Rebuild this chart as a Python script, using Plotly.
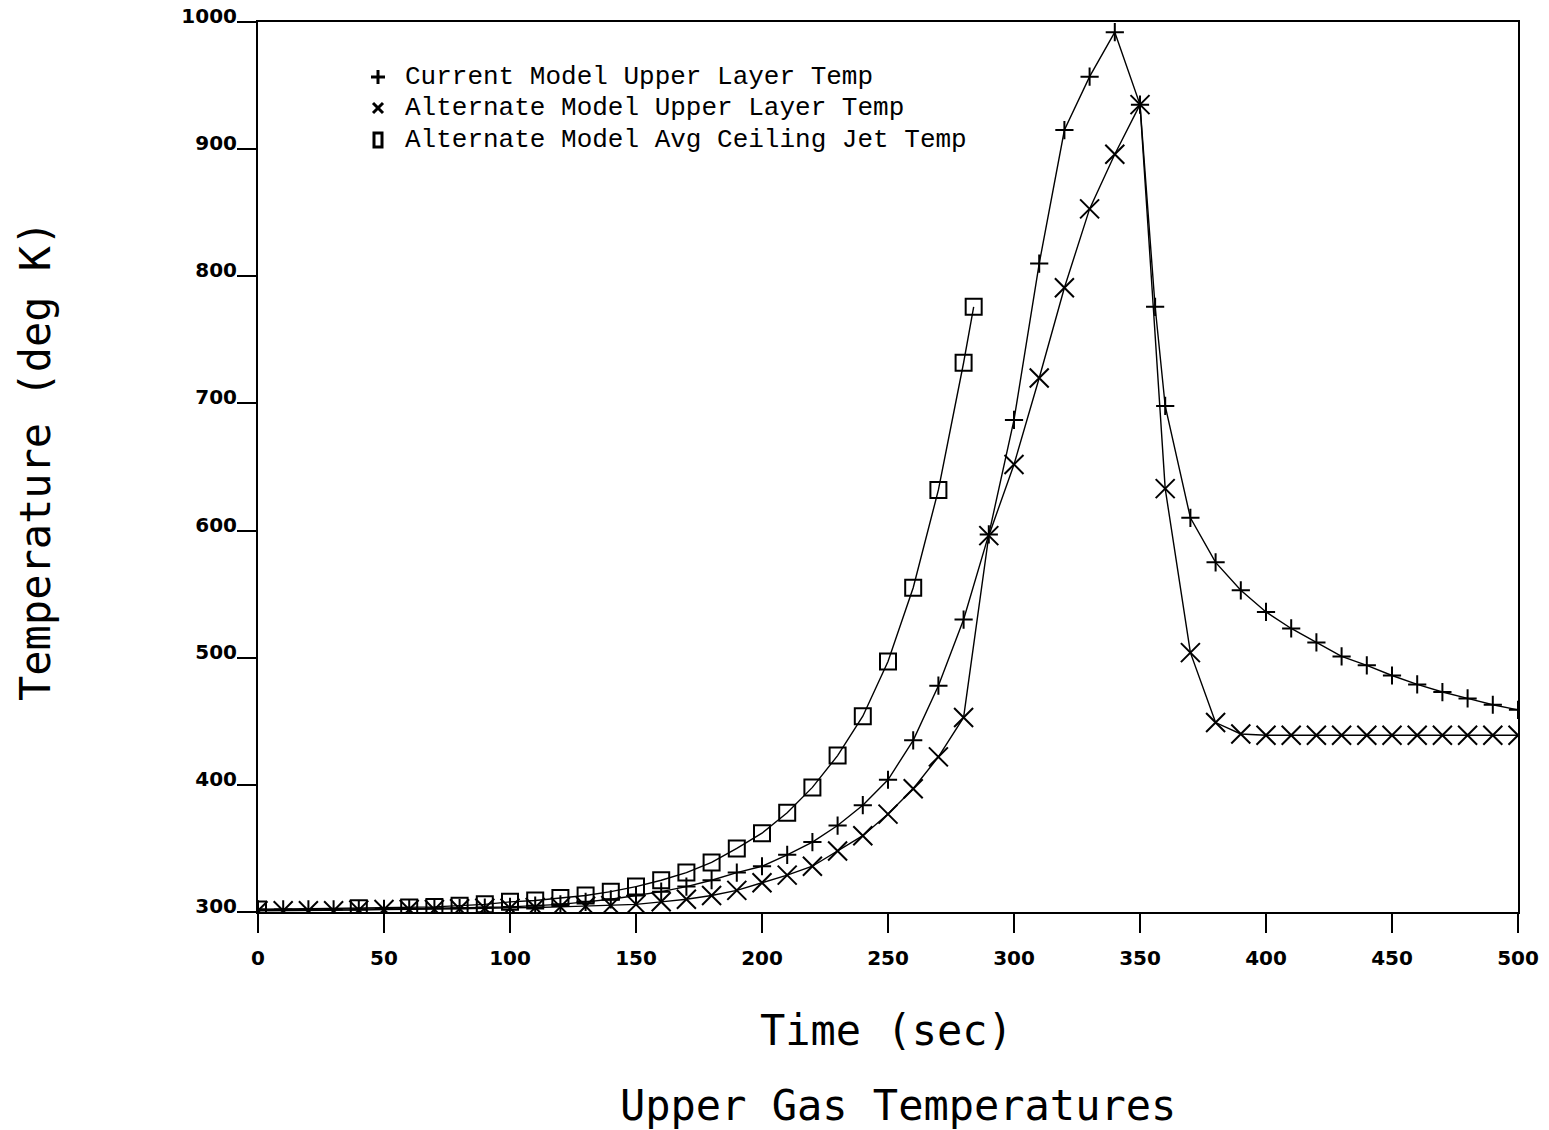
import plotly.graph_objects as go

# ---- data ----
t_current = [0, 10, 20, 30, 40, 50, 60, 70, 80, 90, 100, 110, 120, 130, 140, 150,
             160, 170, 180, 190, 200, 210, 220, 230, 240, 250, 260, 270, 280, 290,
             300, 310, 320, 330, 340, 350, 356, 360, 370, 380, 390, 400, 410, 420,
             430, 440, 450, 460, 470, 480, 490, 500]
temp_current = [302, 302, 302, 302, 302, 302.5, 302.5, 303, 303, 303.5, 304, 305, 306, 308,
                310, 313, 316, 320, 325, 331, 336, 345, 355, 368, 384, 404, 435, 478,
                530, 597, 687, 810, 915, 957, 992, 935, 776, 698, 610, 575, 553, 536,
                523, 512, 501, 494, 486, 479, 473, 468, 463, 459]

t_alternate = [0, 10, 20, 30, 40, 50, 60, 70, 80, 90, 100, 110, 120, 130, 140, 150,
               160, 170, 180, 190, 200, 210, 220, 230, 240, 250, 260, 270, 280, 290,
               300, 310, 320, 330, 340, 350, 360, 370, 380, 390, 400, 410, 420, 430,
               440, 450, 460, 470, 480, 490, 500]
temp_alternate = [301, 301, 301, 301, 301.5, 302, 302, 302, 302.5, 303, 303, 303.5, 304,
                  304.5, 305, 306, 308, 310, 313, 317, 323, 329, 336, 348, 360, 377, 397,
                  422, 453, 596, 652, 720, 791, 853, 896, 935, 633, 504, 449, 440, 439,
                  439, 439, 439, 439, 439, 439, 439, 439, 439, 439]

t_jet = [0, 10, 20, 30, 40, 50, 60, 70, 80, 90, 100, 110, 120, 130, 140, 150, 160,
         170, 180, 190, 200, 210, 220, 230, 240, 250, 260, 270, 280, 284]
temp_jet = [302, None, None, None, 303, None, 303.5, 304, 305, 306, 308, 309, 311, 313,
            316, 320, 325, 331, 339, 350, 362, 378, 398, 423, 454, 497, 555, 632, 732, 776]

legend_names = ["Current Model Upper Layer Temp",
                "Alternate Model Upper Layer Temp",
                "Alternate Model Avg Ceiling Jet Temp"]

x_ticks = [0, 50, 100, 150, 200, 250, 300, 350, 400, 450, 500]
y_ticks = [300, 400, 500, 600, 700, 800, 900, 1000]

x_title = "Time (sec)"
y_title = "Temperature (deg K)"
sub_title = "Upper Gas Temperatures"

# ---- layout geometry (pixels) ----
W, H = 1549, 1130
L, R, T, B = 258, 31, 22, 218
PW, PH = W - L - R, H - T - B


def px(xp):
    return (xp - L) / PW


def py(yp):
    return (H - B - yp) / PH


# ---- figure ----
fig = go.Figure()
line_style = dict(color="black", width=1.4)

fig.add_trace(go.Scatter(x=t_current, y=temp_current, mode="lines+markers",
                         line=line_style, name=legend_names[0], showlegend=False,
                         marker=dict(symbol="cross-thin-open", size=13,
                                     line=dict(color="black", width=2))))
fig.add_trace(go.Scatter(x=t_alternate, y=temp_alternate, mode="lines+markers",
                         line=line_style, name=legend_names[1], showlegend=False,
                         marker=dict(symbol="x-thin-open", size=19,
                                     line=dict(color="black", width=2))))
fig.add_trace(go.Scatter(x=t_jet, y=temp_jet, mode="lines+markers", connectgaps=True,
                         line=line_style, name=legend_names[2], showlegend=False,
                         marker=dict(symbol="square-open", size=16, color="black",
                                     line=dict(color="black", width=2))))

# ---- key (symbol + text, placed like the original) ----
key_x, key_text_x = 378, 403
key_rows = [77, 108, 140]
key_font = dict(family="Liberation Mono", size=26, color="black")
stroke = dict(color="black", width=3)

# "+" key
r0 = key_rows[0]
fig.add_shape(type="line", xref="paper", yref="paper", x0=px(key_x - 7), x1=px(key_x + 7),
              y0=py(r0), y1=py(r0), line=stroke)
fig.add_shape(type="line", xref="paper", yref="paper", x0=px(key_x), x1=px(key_x),
              y0=py(r0 - 7), y1=py(r0 + 7), line=stroke)
# "x" key
r1 = key_rows[1]
fig.add_shape(type="line", xref="paper", yref="paper", x0=px(key_x - 5), x1=px(key_x + 5),
              y0=py(r1 - 5), y1=py(r1 + 5), line=stroke)
fig.add_shape(type="line", xref="paper", yref="paper", x0=px(key_x - 5), x1=px(key_x + 5),
              y0=py(r1 + 5), y1=py(r1 - 5), line=stroke)
# square key
r2 = key_rows[2]
fig.add_shape(type="rect", xref="paper", yref="paper", x0=px(key_x - 4), x1=px(key_x + 4),
              y0=py(r2 - 7), y1=py(r2 + 7), line=stroke)

for name, row in zip(legend_names, key_rows):
    fig.add_annotation(text=name, xref="paper", yref="paper", x=px(key_text_x), y=py(row),
                       xanchor="left", yanchor="middle", showarrow=False, font=key_font)

axis_common = dict(showline=True, linecolor="black", linewidth=2, mirror=True,
                   showgrid=False, zeroline=False, ticks="outside", ticklen=19,
                   tickwidth=2, tickcolor="black", automargin=False,
                   tickfont=dict(family="DejaVu Sans", size=20, color="black",
                                 weight="bold"))

fig.update_xaxes(range=[0, 500], tickvals=x_ticks, ticktext=[str(v) for v in x_ticks],
                 ticklabelstandoff=8, **axis_common)
fig.update_yaxes(range=[300, 1000], tickvals=y_ticks, ticktext=[str(v) for v in y_ticks],
                 ticklabelshift=-6, ticklabelstandoff=-4, **axis_common)

title_font = dict(family="DejaVu Sans Mono", size=42, color="black")
fig.add_annotation(text=x_title, xref="paper", yref="paper", x=px(886), y=py(1030),
                   showarrow=False, font=title_font, xanchor="center", yanchor="middle")
fig.add_annotation(text=sub_title, xref="paper", yref="paper", x=px(898), y=py(1105),
                   showarrow=False, font=title_font, xanchor="center", yanchor="middle")
fig.add_annotation(text=y_title, xref="paper", yref="paper", x=px(35), y=py(461),
                   textangle=-90, showarrow=False, font=title_font,
                   xanchor="center", yanchor="middle")

fig.update_layout(
    width=W, height=H,
    margin=dict(l=L, r=R, t=T, b=B, autoexpand=False),
    paper_bgcolor="white", plot_bgcolor="white",
    showlegend=False,
)

fig.write_html("out.html")
